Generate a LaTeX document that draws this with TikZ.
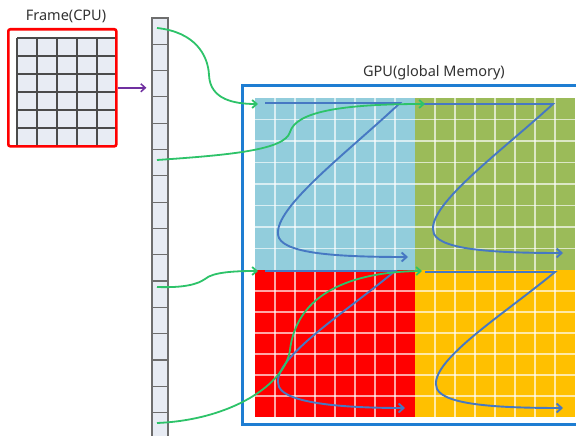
\documentclass[tikz,border=0pt]{standalone}
\usepackage{fontspec}
\setmainfont{Noto Sans}
\usetikzlibrary{arrows.meta,calc}
\definecolor{qblue}{RGB}{146,205,220}
\definecolor{qgreen}{RGB}{155,187,89}
\definecolor{qred}{RGB}{255,0,0}
\definecolor{qyellow}{RGB}{255,192,0}
\definecolor{zcol}{RGB}{70,120,195}
\definecolor{gcol}{RGB}{45,195,105}
\definecolor{pcol}{RGB}{112,48,160}
\definecolor{gpublue}{RGB}{30,125,210}
\definecolor{cellbg}{RGB}{232,236,244}
\definecolor{txtcol}{RGB}{50,50,50}
\newcommand\zarrow[7]{\draw[zline] (#1,#2) -- (#3,#2) .. controls ({#3-0.45*(#3-#4)},{#2+0.41*(#5-#2)}) and ({#4-10},{#5-17}) .. ({#4+1},{#5+9}) .. controls ({#4+9},{#5+25}) and ({#4+62},#7) .. (#6,#7);}
\newcommand\qgrid[5]{% x0 y0 x1 y1 rowheight
  \foreach \gx in {20,40,...,140} \draw[wgrid] ({#1+\gx},#2) -- ({#1+\gx},#4);
  \pgfmathtruncatemacro\nr{round((#4-#2)/#5)-1}
  \foreach \gy in {1,...,\nr} \draw[wgrid] (#1,{#2+\gy*#5}) -- (#3,{#2+\gy*#5});
}
\begin{document}
\begin{tikzpicture}[x=1pt,y=-1pt,
  lbl/.style={font=\fontsize{14.5}{16}\selectfont, text=txtcol, inner sep=0},
  memcell/.style={draw={rgb,255:red,110;green,110;blue,110}, line width=1.2pt, fill=cellbg, minimum width=16pt, minimum height=26.3pt, inner sep=0},
  quad/.style={minimum width=160pt, inner sep=0, anchor=north west, outer sep=0},
  fgrid/.style={draw={rgb,255:red,75;green,75;blue,75}, line width=1.1pt},
  wgrid/.style={draw=white, line width=1.1pt, opacity=0.65},
  zline/.style={draw=zcol, line width=1.9pt, -{Straight Barb[length=5pt,width=9pt]}},
  gline/.style={draw=gcol, line width=1.8pt, -{Straight Barb[length=4.5pt,width=8pt]}},
  parrow/.style={draw=pcol, line width=1.5pt, -{Straight Barb[length=4.5pt,width=8pt]}}
]
\clip (0,0) rectangle (576,436);
\fill[white] (0,0) rectangle (576,436);

% ---- Frame (CPU)
\fill[cellbg] (17,38) rectangle (115,145);
\foreach \x in {17,37,57,77,97} \draw[fgrid] (\x,38) -- (\x,145);
\foreach \y in {38,56,74,92,110,128} \draw[fgrid] (17,\y) -- (115,\y);
\node[draw=red, line width=2.6pt, rounded corners=2pt, minimum width=108pt, minimum height=117pt, inner sep=0, anchor=north west] (frame) at (7,28) {};
\node[lbl] (framelbl) at (66,16) {Frame(CPU)};

% ---- memory strip
\foreach \i in {1,...,16} \node[memcell] (m\i) at (160,{18+26.3*(\i-0.5)}) {};

% ---- GPU
\node[quad, fill=qblue, minimum height=172pt] (qa) at (255,98) {};
\node[quad, fill=qgreen, minimum height=172pt] (qb) at (415,98) {};
\node[quad, fill=qred, minimum height=147pt] (qc) at (255,270) {};
\node[quad, fill=qyellow, minimum height=147pt] (qd) at (415,270) {};
\qgrid{255}{98}{415}{270}{21.5}
\qgrid{415}{98}{575}{270}{21.5}
\qgrid{255}{270}{415}{417}{21}
\qgrid{415}{270}{575}{417}{21}
\node[draw=gpublue, line width=2.6pt, minimum width=350pt, minimum height=339pt, inner sep=0, anchor=north west] (gpu) at (241,84) {};
\node[lbl] (gpulbl) at (434,73) {GPU(global Memory)};

% ---- purple arrow
\draw[parrow, shorten >=5pt] (frame.east) -- (frame.east -| m1.west);

% ---- Z paths
\zarrow{265}{103}{400}{278}{229}{408}{257}
\zarrow{423}{104}{553}{433}{225}{563}{253}
\zarrow{265}{271}{395}{278}{378}{405}{408}
\zarrow{425}{272}{555}{436}{380}{563}{408}

% ---- green connectors
\coordinate (s1) at (157,28);
\coordinate (s2) at (157,160);
\coordinate (s3) at (157,287);
\coordinate (s4) at (157,423);
\coordinate (e1) at (258,104);
\coordinate (e2) at (425,104);
\coordinate (e3) at (258,271);
\coordinate (e4) at (422,271);
\draw[gline] (s1) .. controls (195,32) and (208,55) .. (209,75) .. controls (210,100) and (235,104) .. (e1);
\draw[gline] (s2) .. controls (230,155) and (285,150) .. (290,132) .. controls (296,112) and (340,104) .. (e2);
\draw[gline] (s3) .. controls (185,288) and (198,284) .. (205,279) .. controls (213,272) and (235,271) .. (e3);
\draw[gline] (s4) .. controls (230,420) and (285,385) .. (290,350) .. controls (296,300) and (340,272) .. (e4);
\end{tikzpicture}
\end{document}
